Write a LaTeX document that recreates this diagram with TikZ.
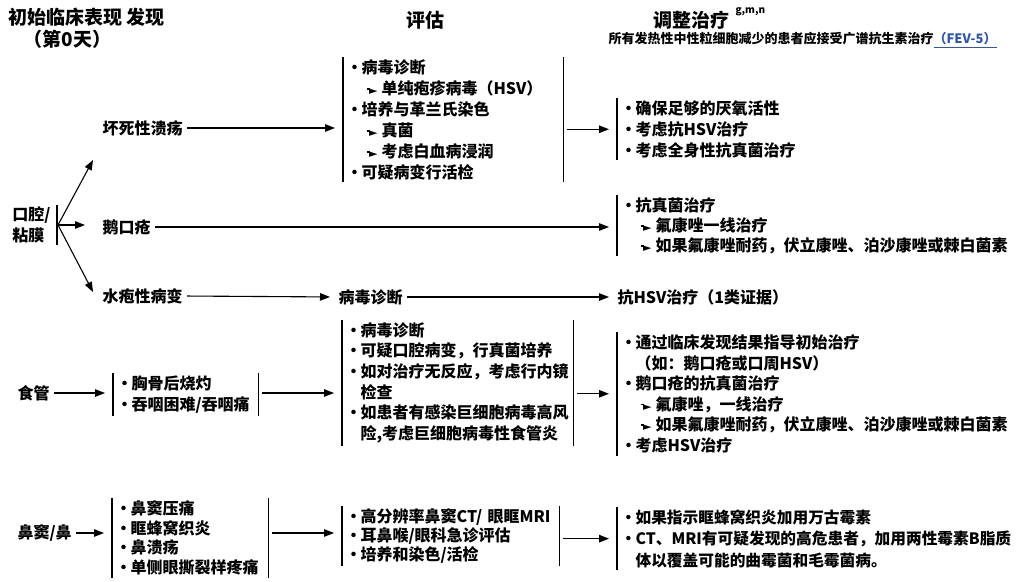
\documentclass[tikz,border=0pt]{standalone}
\usepackage{fontspec}
\setmainfont{Noto Sans CJK SC}
\newfontfamily\symfont{DejaVu Sans}
\usetikzlibrary{arrows.meta}
\definecolor{linkblue}{RGB}{46,84,180}
\tikzstyle{txt} = [inner sep=0pt, anchor=west, font=\bfseries\fontsize{16}{21}\selectfont]
\tikzstyle{head} = [txt, font=\bfseries\fontsize{19}{19}\selectfont]
\tikzstyle{box} = [txt, anchor=north west, align=left, inner xsep=4pt, inner ysep=2pt]
\tikzstyle{flow} = [->, shorten <=4pt, shorten >=8pt]
\tikzset{>={Triangle[length=10pt,width=7.5pt]}}
\newcommand{\bul}{\makebox[14pt][c]{•}}
\newcommand{\sbul}{\hspace*{19pt}\makebox[15pt][l]{\rule[0.3em]{3.5pt}{1.8pt}\kern-1pt{\symfont\fontsize{11}{11}\selectfont ►}}}
\newcommand{\contind}{\hspace*{14pt}}
\newcommand{\lbar}[1]{\draw (#1.north west) -- (#1.south west);}
\newcommand{\rbar}[1]{\draw (#1.north east) -- (#1.south east);}
\begin{document}
\begin{tikzpicture}[x=1pt, y=-1pt, line width=1.1pt]
\useasboundingbox (0,0) rectangle (1017,581);

% column heads
\node[head] (hfind) at (8,17) {初始临床表现 发现};
\node[head] (hday) at (23,39) {（第0天）};
\node[head, anchor=center] (heval) at (425,20) {评估};
\node[head] (htreat) at (653,20) {调整治疗};
\node[txt, font=\bfseries\fontsize{10}{10}\selectfont] (hsup) at (735,12) {g,m,n};
\node[txt, font=\bfseries\fontsize{13}{13}\selectfont] (hnote) at (608,40)
  {所有发热性中性粒细胞减少的患者应接受广谱抗生素治疗\textcolor{linkblue}{\underline{（FEV-5）}}};

% oral / mucosa
\node[txt, anchor=east, align=left, inner xsep=6pt, inner ysep=1pt] (oral) at (57,225) {口腔/\\粘膜};
\draw (oral.north east) -- (oral.south east);
\coordinate (fork) at ([xshift=1pt]oral.east);
\coordinate (fup) at (93,160);
\coordinate (fmid) at (85,225);
\coordinate (fdown) at (93,292);
\draw[->] (fork) -- (fup);
\draw[->] (fork) -- (fmid);
\draw[->] (fork) -- (fdown);

\node[txt] (ulcer) at (102,128) {坏死性溃疡};
\node[txt] (thrush) at (102,227) {鹅口疮};
\node[txt] (vesicle) at (102,296) {水疱性病变};

\node[box, text width=211pt] (eval1) at (343,57) {\bul 病毒诊断\\
  \sbul 单纯疱疹病毒（HSV）\\
  \bul 培养与革兰氏染色\\
  \sbul 真菌\\
  \sbul 考虑白血病浸润\\
  \bul 可疑病变行活检};
\lbar{eval1} \rbar{eval1}

\node[box] (treat1) at (617,98) {\bul 确保足够的厌氧活性\\
  \bul 考虑抗HSV治疗\\
  \bul 考虑全身性抗真菌治疗};
\lbar{treat1}

\node[box, font=\bfseries\fontsize{16}{20}\selectfont] (treat2) at (617,195) {\bul 抗真菌治疗\\
  \sbul 氟康唑一线治疗\\
  \sbul 如果氟康唑耐药，伏立康唑、泊沙康唑或棘白菌素};
\lbar{treat2}

\node[txt] (vdiag) at (338,297) {病毒诊断};
\node[txt] (vtreat) at (617,297) {抗HSV治疗（1类证据）};

\draw[flow] (ulcer.east) -- (ulcer.east -| eval1.west);
\draw[flow] (treat1.west -| eval1.east) -- (treat1.west);
\draw[flow] (thrush.east) -- (thrush.east -| treat2.west);
\draw[flow] (vesicle.east) -- (vdiag.west);
\draw[flow] (vdiag.east) -- (vtreat.west);

% esophagus
\node[txt] (eso) at (17,393) {食管};
\node[box, text width=136pt] (sym2) at (113,373) {\bul 胸骨后烧灼\\
  \bul 吞咽困难/吞咽痛};
\lbar{sym2} \rbar{sym2}

\node[box, text width=222pt, font=\bfseries\fontsize{16}{20.6}\selectfont] (eval2) at (342,320) {\bul 病毒诊断\\
  \bul 可疑口腔病变，行真菌培养\\
  \bul 如对治疗无反应，考虑行内镜\\
  \contind 检查\\
  \bul 如患者有感染巨细胞病毒高风\\
  \contind 险,考虑巨细胞病毒性食管炎};
\lbar{eval2} \rbar{eval2}

\node[box, font=\bfseries\fontsize{16}{20.6}\selectfont] (treat3) at (617,332) {\bul 通过临床发现结果指导初始治疗\\
  \contind （如：鹅口疮或口周HSV）\\
  \bul 鹅口疮的抗真菌治疗\\
  \sbul 氟康唑，一线治疗\\
  \sbul 如果氟康唑耐药，伏立康唑、泊沙康唑或棘白菌素\\
  \bul 考虑HSV治疗};
\lbar{treat3}

\draw[flow] (eso.east) -- (eso.east -| sym2.west);
\draw[flow] (eso.east -| sym2.east) -- (eso.east -| eval2.west);
\draw[flow] (treat3.west -| eval2.east) -- (treat3.west);

% sinus / nose
\node[txt] (nose) at (17,533) {鼻窦/鼻};
\node[box, text width=147pt, font=\bfseries\fontsize{16}{19.7}\selectfont] (sym3) at (112,498) {\bul 鼻窦压痛\\
  \bul 眶蜂窝织炎\\
  \bul 鼻溃疡\\
  \bul 单侧眼撕裂样疼痛};
\lbar{sym3} \rbar{sym3}

\node[box, text width=208pt, font=\bfseries\fontsize{16}{19}\selectfont] (eval3) at (342,506) {\bul 高分辨率鼻窦CT/~眼眶MRI\\
  \bul 耳鼻喉/眼科急诊评估\\
  \bul 培养和染色/活检};
\lbar{eval3} \rbar{eval3}

\node[box, font=\bfseries\fontsize{15.7}{21.5}\selectfont] (treat4) at (617,507) {\bul 如果指示眶蜂窝织炎加用万古霉素\\
  \bul CT、MRI有可疑发现的高危患者，加用两性霉素B脂质\\
  \contind 体以覆盖可能的曲霉菌和毛霉菌病。};
\lbar{treat4}

\draw[flow] (nose.east) -- (nose.east -| sym3.west);
\draw[flow] (nose.east -| sym3.east) -- (nose.east -| eval3.west);
\draw[flow] (treat4.west -| eval3.east) -- (treat4.west);
\end{tikzpicture}
\end{document}
